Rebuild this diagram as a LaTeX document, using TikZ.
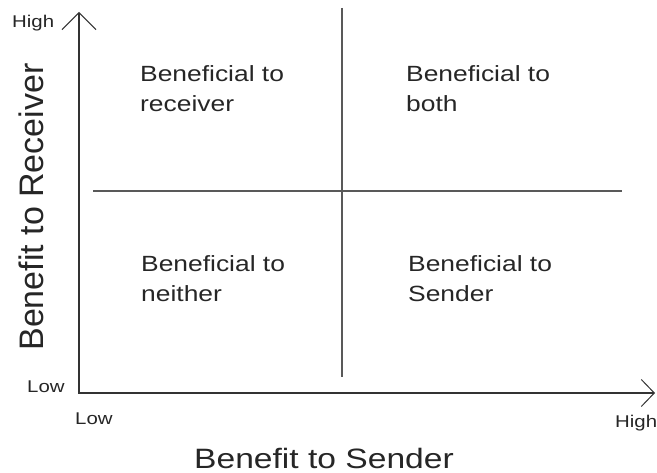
\documentclass[tikz,border=0pt]{standalone}
\usepackage{fontspec}
\setmainfont{Liberation Sans}
\newfontfamily\widesans[FakeStretch=1.2]{Liberation Sans}
\usetikzlibrary{arrows.meta}

\begin{document}
\begin{tikzpicture}[x=1pt, y=-1pt,
  quad/.style={anchor=north west, inner sep=0pt, align=left, text=black!85,
    font=\widesans\fontsize{22}{30}\selectfont},
  level/.style={anchor=base west, inner sep=0pt, text=black!85,
    font=\widesans\fontsize{17}{20}\selectfont},
  axis/.style={line width=1.8pt, draw=black!80},
  split/.style={line width=1.3pt, draw=black!65}]
  \useasboundingbox (0,0) rectangle (657,473);
  % axes
  \coordinate (O) at (79,393);
  \coordinate (ytip) at (79,12);
  \coordinate (xtip) at (655,393);
  \draw[axis, {Straight Barb[length=17pt,width=34pt,line width=1pt]}-{Straight Barb[length=13pt,width=27pt,line width=1pt]}]
    (ytip) -- (O) -- (xtip);
  % quadrant lines
  \coordinate (vtop) at (342,8);
  \coordinate (vbot) at (342,377);
  \coordinate (hleft) at (93,191);
  \coordinate (hright) at (622,191);
  \draw[split] (vtop) -- (vbot);
  \draw[split] (hleft) -- (hright);
  % quadrants
  \node[quad] (receiver) at (140,65) {Beneficial to\\receiver};
  \node[quad] (both) at (406,65) {Beneficial to\\both};
  \node[quad] (neither) at (141,255) {Beneficial to\\neither};
  \node[quad] (sender) at (408,255) {Beneficial to\\Sender};
  % levels
  \node[level] (yhigh) at (12,28) {High};
  \node[level] (ylow) at (27,393) {Low};
  \node[level] (xlow) at (75,425) {Low};
  \node[level] (xhigh) at (615,428) {High};
  % axis titles
  \node[anchor=base, inner sep=0pt, text=black!85, font=\widesans\fontsize{28}{34}\selectfont]
    (xtitle) at (324,468) {Benefit to Sender};
  \node[anchor=base, rotate=90, inner sep=0pt, text=black!85, font=\fontsize{34}{40}\selectfont]
    (ytitle) at (43,207) {Benefit to Receiver};
\end{tikzpicture}
\end{document}
